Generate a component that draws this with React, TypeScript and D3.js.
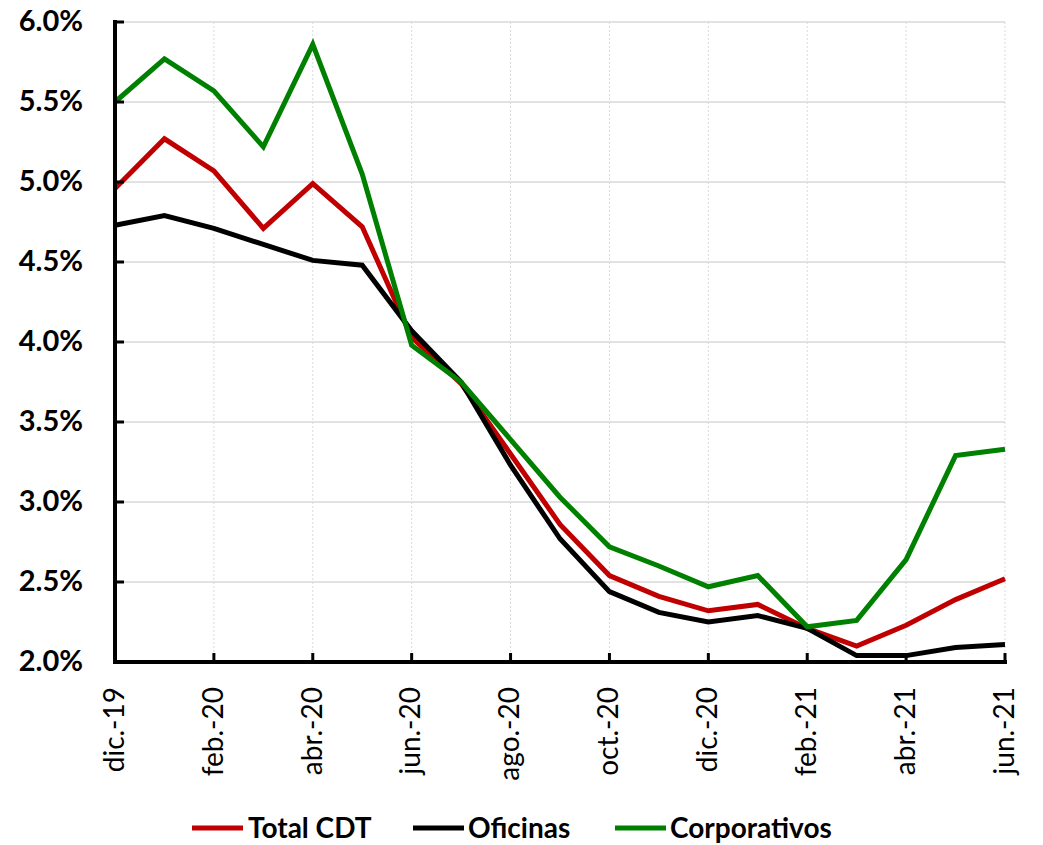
import React from "react";
import * as d3 from "d3";

const months = [
  "dic.-19", "ene.-20", "feb.-20", "mar.-20", "abr.-20", "may.-20", "jun.-20",
  "jul.-20", "ago.-20", "sep.-20", "oct.-20", "nov.-20", "dic.-20", "ene.-21",
  "feb.-21", "mar.-21", "abr.-21", "may.-21", "jun.-21",
];
const totalCDT = [4.96, 5.27, 5.07, 4.71, 4.99, 4.72, 4.03, 3.74, 3.30, 2.86, 2.54, 2.41, 2.32, 2.36, 2.21, 2.10, 2.23, 2.39, 2.52];
const oficinas = [4.73, 4.79, 4.71, 4.61, 4.51, 4.48, 4.07, 3.75, 3.23, 2.77, 2.44, 2.31, 2.25, 2.29, 2.21, 2.04, 2.04, 2.09, 2.11];
const corporativos = [5.50, 5.77, 5.57, 5.22, 5.86, 5.05, 3.98, 3.75, 3.39, 3.03, 2.72, 2.60, 2.47, 2.54, 2.22, 2.26, 2.64, 3.29, 3.33];
const yTicks = [2.0, 2.5, 3.0, 3.5, 4.0, 4.5, 5.0, 5.5, 6.0];

const series = [
  { name: "Total CDT", values: totalCDT, color: "#c00000" },
  { name: "Oficinas", values: oficinas, color: "#000000" },
  { name: "Corporativos", values: corporativos, color: "#008000" },
];

const W = 1043, H = 845;
const L = 115, R = 1005, T = 22, B = 662;
const FONT = "Lato, 'Open Sans', sans-serif";

export default function App() {
  const x = d3.scaleLinear().domain([0, months.length - 1]).range([L, R]);
  const y = d3.scaleLinear().domain([2, 6]).range([B, T]);
  const line = d3.line<number>().x((_, i) => x(i)).y((v) => y(v));
  const tickIdx = months.map((_, i) => i).filter((i) => i % 2 === 0);
  const legendItems = [
    { s: series[0], lx: 192, tx: 248 },
    { s: series[1], lx: 413, tx: 468 },
    { s: series[2], lx: 615, tx: 670 },
  ];
  return (
    <svg width={W} height={H} style={{ position: "absolute", left: 0, top: 0 }} fontFamily={FONT}>
      <rect width={W} height={H} fill="#fff" />
      {yTicks.map((t) => (
        <line key={"hg" + t} x1={L} x2={R} y1={y(t)} y2={y(t)} stroke="#d9d9d9" strokeWidth={1.3} />
      ))}
      {tickIdx.filter((i) => i > 0).map((i) => (
        <line key={"vg" + i} x1={x(i)} x2={x(i)} y1={T} y2={B} stroke="#d9d9d9" strokeWidth={1} strokeDasharray="2,2" />
      ))}
      {series.map((s) => (
        <path key={s.name} d={line(s.values) || ""} fill="none" stroke={s.color} strokeWidth={5} strokeLinejoin="miter" />
      ))}
      <line x1={L} x2={L} y1={T - 2} y2={B + 2} stroke="#000" strokeWidth={4} />
      <line x1={L - 2} x2={R + 2} y1={B} y2={B} stroke="#000" strokeWidth={4} />
      {yTicks.map((t) => (
        <g key={"yt" + t}>
          <line x1={L} x2={L + 9} y1={y(t)} y2={y(t)} stroke="#000" strokeWidth={3} />
          <text x={83} y={y(t) - 1} dy="0.35em" textAnchor="end" fontSize={29} fontWeight={700} fill="#000">
            {t.toFixed(1) + "%"}
          </text>
        </g>
      ))}
      {tickIdx.map((i) => (
        <g key={"xt" + i}>
          <line x1={x(i)} x2={x(i)} y1={B} y2={B - 9} stroke="#000" strokeWidth={3} />
          <text
            transform={`translate(${x(i) - 1},${B + 25}) rotate(-90)`}
            dy="0.35em"
            textAnchor="end"
            fontSize={28}
            fill="#000"
          >
            {months[i]}
          </text>
        </g>
      ))}
      {legendItems.map(({ s, lx, tx }) => (
        <g key={"lg" + s.name}>
          <line x1={lx} x2={lx + 51} y1={828} y2={828} stroke={s.color} strokeWidth={5} />
          <text x={tx} y={828} dy="0.35em" fontSize={28} fontWeight={700} fill="#000">{s.name}</text>
        </g>
      ))}
    </svg>
  );
}
